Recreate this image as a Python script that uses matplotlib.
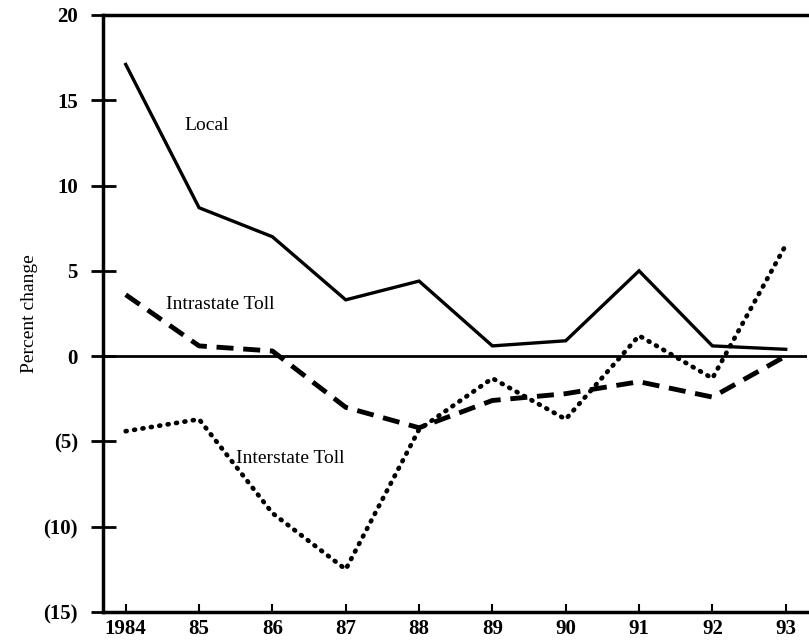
import matplotlib
matplotlib.use("Agg")
import matplotlib.pyplot as plt

years = [1984, 1985, 1986, 1987, 1988, 1989, 1990, 1991, 1992, 1993]
year_labels = ["1984", "85", "86", "87", "88", "89", "90", "91", "92", "93"]
local = [17.1, 8.7, 7.0, 3.3, 4.4, 0.6, 0.9, 5.0, 0.6, 0.4]
intrastate = [3.6, 0.6, 0.3, -3.0, -4.2, -2.6, -2.2, -1.5, -2.4, 0.0]
interstate = [-4.4, -3.7, -9.2, -12.5, -4.3, -1.3, -3.7, 1.2, -1.3, 6.5]
y_ticks = [20, 15, 10, 5, 0, -5, -10, -15]
y_labels = ["20", "15", "10", "5", "0", "(5)", "(10)", "(15)"]

plt.rcParams["font.family"] = ["Liberation Serif", "DejaVu Serif"]

fig = plt.figure(figsize=(8.09, 6.42), dpi=100)
ax = fig.add_axes([0.1273, 0.0467, 0.8702, 0.93])

ax.plot(years, local, color="black", lw=2.4, solid_joinstyle="miter")
ax.plot(years, intrastate, color="black", lw=3.5, dashes=(3.5, 2))
ax.plot(years, interstate, color="black", lw=3.4, dashes=(0.2, 1.6),
        dash_capstyle="round")
ax.axhline(0, color="black", lw=2)

ax.text(1984.8, 13.5, "Local", fontsize=14, va="center")
ax.text(1984.55, 3.0, "Intrastate Toll", fontsize=14, va="center")
ax.text(1985.5, -6.0, "Interstate Toll", fontsize=14, va="center")

ax.set_xlim(1983.69, 1993.29)
ax.set_ylim(-15, 20)
ax.set_xticks(years)
ax.set_xticklabels(year_labels, fontsize=15, fontweight="bold")
ax.set_yticks(y_ticks)
ax.set_yticklabels(y_labels, fontsize=15, fontweight="bold")
ax.tick_params(axis="y", direction="inout", length=18, width=2, pad=9)
ax.tick_params(axis="x", direction="in", length=6, width=1.5, pad=5)
ax.set_ylabel("Percent change", fontsize=14, labelpad=4)

for s in ["left", "top", "bottom"]:
    ax.spines[s].set_linewidth(2.5)
ax.spines["right"].set_visible(False)

fig.savefig("out.png", dpi=100)
